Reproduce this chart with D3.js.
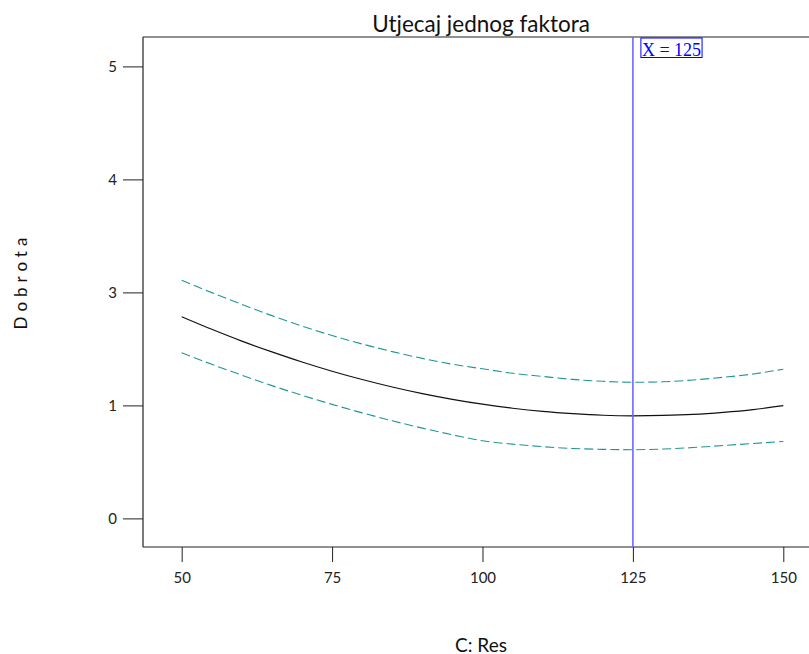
<!DOCTYPE html>
<html>
<head>
<meta charset="utf-8">
<script src="https://cdn.jsdelivr.net/npm/d3@7"></script>
<style>
  html, body { margin: 0; padding: 0; background: #fff; }
  svg { display: block; }
  text { font-family: Lato, "Open Sans", sans-serif; }
</style>
</head>
<body>
<svg id="chart" width="809" height="654"></svg>
<script>
// ---- data ----
const xValues   = [50, 55, 60, 65, 70, 75, 80, 85, 90, 95, 100, 105, 110, 115, 120, 125, 130, 135, 140, 145, 150];
const predicted = [2.570, 2.347, 2.138, 1.947, 1.768, 1.605, 1.458, 1.326, 1.209, 1.108, 1.021, 0.975, 0.947, 0.927, 0.913, 0.908, 0.911, 0.920, 0.938, 0.963, 0.998];
const upperCI   = [3.107, 2.996, 2.788, 2.589, 2.405, 2.237, 2.087, 1.952, 1.832, 1.729, 1.648, 1.568, 1.513, 1.460, 1.427, 1.409, 1.418, 1.450, 1.497, 1.556, 1.641];
const lowerCI   = [1.933, 1.727, 1.535, 1.350, 1.179, 1.018, 0.934, 0.864, 0.799, 0.740, 0.687, 0.657, 0.635, 0.619, 0.611, 0.608, 0.614, 0.627, 0.645, 0.663, 0.681];
const xTicks = [50, 75, 100, 125, 150];
const yTicks = [0, 1, 3, 4, 5];
const yTickLabels = ["0", "1", "3", "4", "5"];
const markerX = 125;
const title = "Utjecaj jednog faktora";
const xTitle = "C: Res";
const yTitle = "Dobrota";

// ---- layout ----
const W = 809, H = 654;
const plot = { left: 143, top: 37, right: 809, bottom: 547 };

const svg = d3.select("#chart");

const x = d3.scaleLinear().domain([43.57, 154.27]).range([plot.left, plot.right]);
const y = d3.scaleLinear().domain(yTicks).range([518.4, 405.4, 292.4, 179.4, 66.4]);

// axes
const xAxis = d3.axisBottom(x).tickValues(xTicks).tickSize(15).tickFormat(d3.format("d"));
const gx = svg.append("g").attr("transform", `translate(0,${plot.bottom})`).call(xAxis);
gx.select(".domain").remove();
gx.selectAll(".tick line").attr("stroke", "#222");
gx.selectAll(".tick text").attr("y", 36).attr("dy", null)
  .attr("fill", "#222").style("font-size", "15px").style("font-family", "Lato");

const yAxis = d3.axisLeft(y).tickValues(yTicks).tickSize(20).tickPadding(6)
  .tickFormat((d, i) => yTickLabels[i]);
const gy = svg.append("g").attr("transform", `translate(${plot.left},0)`).call(yAxis);
gy.select(".domain").remove();
gy.selectAll(".tick line").attr("stroke", "#222");
gy.selectAll(".tick text").attr("fill", "#222").style("font-size", "15px").style("font-family", "Lato");

// frame: left, top, bottom
const frame = svg.append("g").attr("stroke", "#222").attr("stroke-width", 1.2).attr("fill", "none");
frame.append("line").attr("x1", plot.left).attr("x2", plot.left).attr("y1", plot.top).attr("y2", plot.bottom);
frame.append("line").attr("x1", plot.left).attr("x2", plot.right).attr("y1", plot.top).attr("y2", plot.top);
frame.append("line").attr("x1", plot.left).attr("x2", plot.right).attr("y1", plot.bottom).attr("y2", plot.bottom);

// curves
const line = d3.line().x((d, i) => x(xValues[i])).y(d => y(d)).curve(d3.curveMonotoneX);

svg.append("path").datum(upperCI).attr("d", line)
  .attr("fill", "none").attr("stroke", "#1f9696").attr("stroke-width", 1.1).attr("stroke-dasharray", "9,4");
svg.append("path").datum(lowerCI).attr("d", line)
  .attr("fill", "none").attr("stroke", "#1f9696").attr("stroke-width", 1.1).attr("stroke-dasharray", "9,4");
svg.append("path").datum(predicted).attr("d", line)
  .attr("fill", "none").attr("stroke", "#111").attr("stroke-width", 1.2);

// marker line
svg.append("line")
  .attr("x1", x(markerX)).attr("x2", x(markerX))
  .attr("y1", plot.top).attr("y2", plot.bottom)
  .attr("stroke", "#6a6aff").attr("stroke-width", 1.6);

const lbl = svg.append("g");
const lblText = lbl.append("text")
  .attr("x", x(markerX) + 9).attr("y", 55.5)
  .attr("fill", "#0000ff")
  .style("font-family", "'Liberation Serif', 'Times New Roman', serif")
  .style("font-size", "18px")
  .text("X = " + markerX);
const bb = lblText.node().getBBox();
lbl.insert("rect", "text")
  .attr("x", bb.x - 1).attr("y", plot.top + 1)
  .attr("width", bb.width + 2).attr("height", 19.5)
  .attr("fill", "#fff").attr("stroke", "#0000ff").attr("stroke-width", 1);

// titles
svg.append("text").attr("x", 481).attr("y", 31.5).attr("text-anchor", "middle")
  .attr("fill", "#111").style("font-size", "22.5px").text(title);

svg.append("text").attr("x", 481).attr("y", 651.5).attr("text-anchor", "middle")
  .attr("fill", "#111").style("font-size", "19px").text(xTitle);

svg.append("text")
  .attr("transform", `translate(27,281) rotate(-90)`)
  .attr("text-anchor", "middle")
  .attr("fill", "#111").style("font-size", "17px").style("letter-spacing", "5px")
  .text(yTitle);
</script>
</body>
</html>
